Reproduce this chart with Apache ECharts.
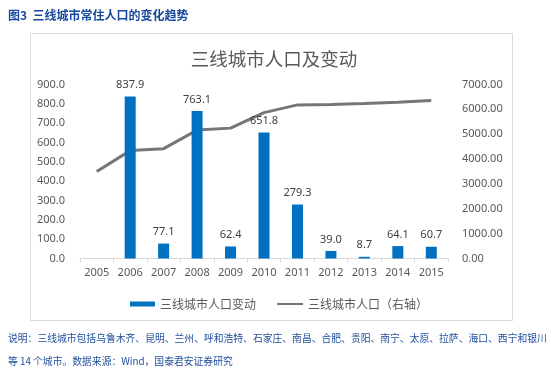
<!DOCTYPE html>
<html>
<head>
<meta charset="utf-8">
<script src="https://cdn.jsdelivr.net/npm/echarts@6/dist/echarts.min.js"></script>
<style>
  html, body { margin: 0; padding: 0; background: #fff; }
  #chart { width: 550px; height: 375px; }
</style>
</head>
<body>
<div id="chart"></div>
<script>
const years = ['2005', '2006', '2007', '2008', '2009', '2010', '2011', '2012', '2013', '2014', '2015'];
const popChange = [null, 837.9, 77.1, 763.1, 62.4, 651.8, 279.3, 39.0, 8.7, 64.1, 60.7];
const population = [3500, 4340, 4420, 5165, 5245, 5870, 6180, 6195, 6235, 6290, 6355];

const chart = echarts.init(document.getElementById('chart'));
const axisText = '#595959';
const noteBlue = '#1f4e9c';
const legendText = { color: axisText, fontSize: 12, fontFamily: 'Noto Sans CJK SC' };

const option = {
  animation: false,
  backgroundColor: '#fff',
  title: [
    {
      text: '图3  三线城市常住人口的变化趋势',
      left: 3, top: 4,
      textStyle: { color: '#17479e', fontSize: 12, fontWeight: 'bold', fontFamily: 'Noto Sans CJK SC' }
    },
    {
      text: '三线城市人口及变动',
      left: 269, top: 45, textAlign: 'center',
      textStyle: { color: '#595959', fontSize: 18.5, fontWeight: 'normal', fontFamily: 'Noto Sans CJK SC' }
    },
    {
      text: '说明：三线城市包括乌鲁木齐、昆明、兰州、呼和浩特、石家庄、南昌、合肥、贵阳、南宁、太原、拉萨、海口、西宁和银川',
      left: 3, top: 328,
      textStyle: { color: noteBlue, fontSize: 9.8, fontWeight: 'normal', fontFamily: 'Noto Sans CJK SC' }
    },
    {
      text: '等 14 个城市。数据来源：Wind，国泰君安证券研究',
      left: 3, top: 351,
      textStyle: { color: noteBlue, fontSize: 9.8, fontWeight: 'normal', fontFamily: 'Noto Sans CJK SC' }
    }
  ],
  graphic: [{
    type: 'rect',
    shape: { x: 30.5, y: 33.5, width: 482, height: 287 },
    style: { fill: 'none', stroke: '#d9d9d9', lineWidth: 1 },
    z: -1
  }],
  legend: [
    {
      top: 293, left: 125,
      itemWidth: 25, itemHeight: 5,
      textStyle: legendText,
      data: [{ name: '三线城市人口变动', icon: 'rect' }]
    },
    {
      top: 293, left: 272,
      itemWidth: 26, itemHeight: 2,
      textStyle: legendText,
      data: [{ name: '三线城市人口（右轴）', icon: 'rect', itemStyle: { color: '#767676' } }]
    }
  ],
  grid: { left: 80, right: 102, top: 84.5, bottom: 116.5 },
  xAxis: {
    type: 'category',
    data: years,
    axisLine: { lineStyle: { color: '#d9d9d9' } },
    axisTick: { show: true, length: 4, lineStyle: { color: '#d9d9d9' } },
    axisLabel: { color: axisText, fontSize: 11, margin: 9, fontFamily: 'Noto Sans' }
  },
  yAxis: [
    {
      type: 'value', min: 0, max: 900, interval: 100,
      axisLine: { show: false }, axisTick: { show: false },
      splitLine: { show: false },
      axisLabel: { color: axisText, fontSize: 11, margin: 15, fontFamily: 'Noto Sans', formatter: v => v.toFixed(1) }
    },
    {
      type: 'value', min: 0, max: 7000, interval: 1000,
      axisLine: { show: false }, axisTick: { show: false },
      splitLine: { show: false },
      axisLabel: { color: axisText, fontSize: 11, margin: 14, fontFamily: 'Noto Sans', formatter: v => v.toFixed(2) }
    }
  ],
  series: [
    {
      name: '三线城市人口变动',
      type: 'bar',
      data: popChange,
      barWidth: 11,
      itemStyle: { color: '#0070c0' },
      label: {
        show: true, position: 'top', distance: 6,
        color: '#404040', fontSize: 11, fontFamily: 'Noto Sans',
        formatter: p => p.value == null ? '' : p.value.toFixed(1)
      }
    },
    {
      name: '三线城市人口（右轴）',
      type: 'line',
      yAxisIndex: 1,
      data: population,
      symbol: 'none',
      lineStyle: { color: '#767676', width: 3 },
      itemStyle: { color: '#767676' },
      z: 1
    }
  ]
};

chart.setOption(option);
</script>
</body>
</html>
